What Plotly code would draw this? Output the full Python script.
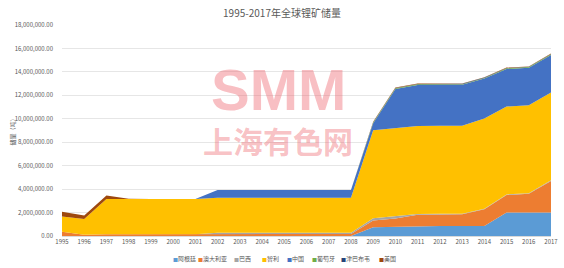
import plotly.graph_objects as go

years = list(range(1995, 2018))
names = ["阿根廷", "澳大利亚", "巴西", "智利", "中国", "葡萄牙", "津巴布韦", "美国"]
colors = ["#5B9BD5", "#ED7D31", "#A5A5A5", "#FFC000", "#4472C4", "#70AD47", "#264478", "#9E480E"]

argentina = [0]*14 + [750000, 800000, 850000, 850000, 850000, 850000, 2000000, 2000000, 2000000]
australia = [370000, 100000, 150000, 150000, 150000, 150000, 150000,
             170000, 170000, 170000, 170000, 170000, 170000, 170000,
             580000, 700000, 970000, 1000000, 1000000, 1430000, 1500000, 1600000, 2700000]
brazil = [0]*7 + [100000]*7 + [190000, 190000, 64000, 46000, 46000, 48000, 48000, 48000, 48000]
chile = [1300000, 1350000, 3000000, 3000000, 3000000, 3000000, 3000000,
         3000000, 3000000, 3000000, 3000000, 3000000, 3000000, 3000000,
         7500000, 7500000, 7500000, 7500000, 7500000, 7700000, 7500000, 7500000, 7500000]
china = [0]*7 + [650000]*7 + [600000, 3350000, 3500000, 3500000, 3500000, 3400000, 3200000, 3200000, 3200000]
portugal = [0]*14 + [60000]*9
zimbabwe = [0]*14 + [23000]*9
usa = [400000, 300000, 300000, 30000, 0, 0, 0] + [0]*7 + [38000]*9

series = [argentina, australia, brazil, chile, china, portugal, zimbabwe, usa]

# legend entry left positions (pixels)
legend_px = [171, 196, 232, 260, 285, 310, 339, 377]

font_family = "Noto Sans CJK SC, Noto Sans, sans-serif"
L, R, T, B, W, H = 62, 13, 25, 32, 564, 268
pw = W - L - R
ph = H - T - B

fig = go.Figure()
for name, col, vals in zip(names, colors, series):
    fig.add_trace(go.Scatter(
        x=years, y=vals, name=name, mode="lines",
        stackgroup="one", line=dict(width=0, color=col),
        fillcolor=col, showlegend=False,
    ))

annotations = [
    dict(text="<b>SMM</b>", x=(278 - L) / pw, y=(H - B - 89) / ph, xref="paper", yref="paper",
         showarrow=False, font=dict(size=58, color="rgba(238,95,105,0.4)", family="Liberation Sans"),
         xanchor="center", yanchor="middle"),
    dict(text="<b>上海有色网</b>", x=(278 - L) / pw, y=(H - B - 140) / ph, xref="paper", yref="paper",
         showarrow=False, font=dict(size=30, color="rgba(238,95,105,0.4)", family="Noto Sans CJK SC"),
         xanchor="center", yanchor="middle"),
    dict(text="储量（吨）", x=(12 - L) / pw, y=0.5, xref="paper", yref="paper",
         showarrow=False, textangle=-90, font=dict(size=6, color="#595959"),
         xanchor="center", yanchor="middle"),
]
for name, col, px in zip(names, colors, legend_px):
    annotations.append(dict(
        text=f"<span style='color:{col};font-size:5px'>■</span>{name}",
        x=(px - L) / pw, y=(H - B - 258) / ph, xref="paper", yref="paper",
        showarrow=False, xanchor="left", yanchor="middle",
        font=dict(size=6, color="#595959"),
    ))

fig.update_layout(
    width=W, height=H,
    margin=dict(l=L, r=R, t=T, b=B),
    paper_bgcolor="white", plot_bgcolor="white",
    font=dict(family=font_family, color="#595959", size=6),
    title=dict(text="1995-2017年全球锂矿储量", x=0.5, xanchor="center",
               y=1 - 13 / H, yanchor="middle", font=dict(size=10, color="#595959")),
    showlegend=False,
    xaxis=dict(range=[1995, 2017], tickmode="array", tickvals=years,
               ticktext=[str(y) for y in years], showgrid=False,
               showline=True, linecolor="#D9D9D9", linewidth=1, automargin=False,
               tickfont=dict(size=6, color="#595959"), ticks="", zeroline=False),
    yaxis=dict(range=[0, 18000000], dtick=2000000, tickformat=",.2f",
               showgrid=True, gridcolor="#E6E6E6", gridwidth=1, automargin=False,
               zeroline=False, showline=False, ticks="", ticklabelstandoff=8,
               tickfont=dict(size=6, color="#595959")),
    annotations=annotations,
)

fig.write_html("out.html")
